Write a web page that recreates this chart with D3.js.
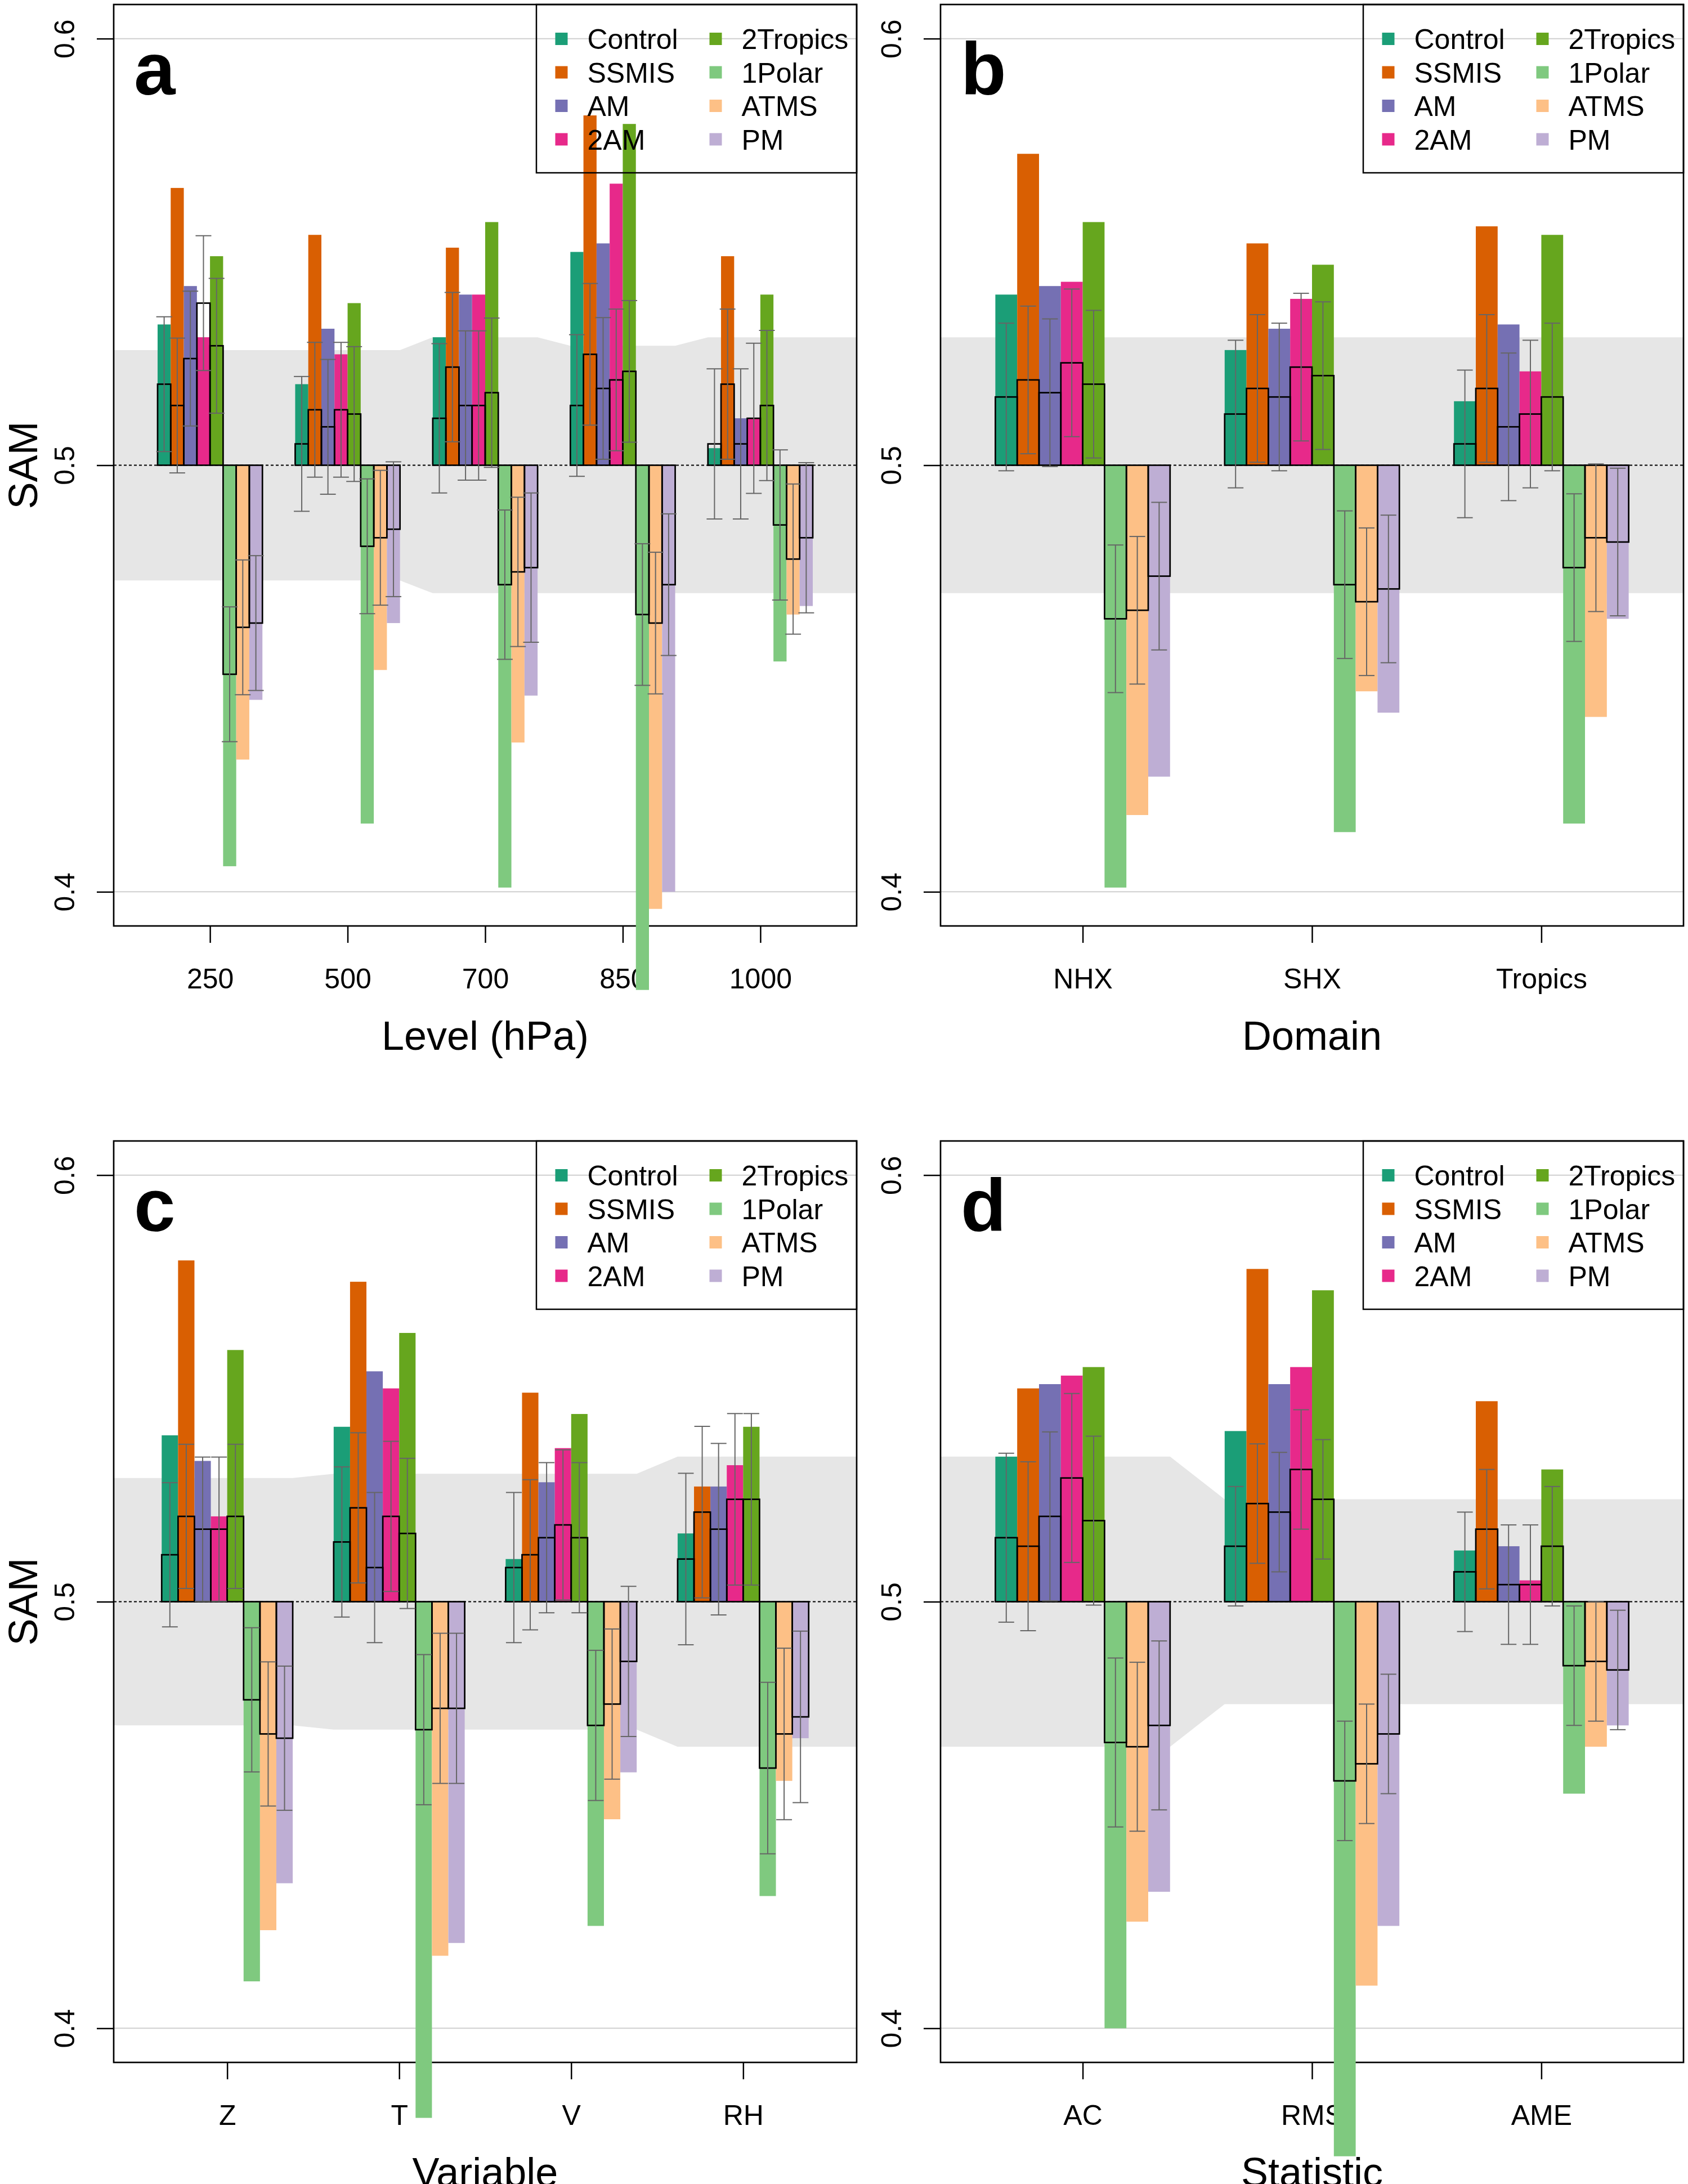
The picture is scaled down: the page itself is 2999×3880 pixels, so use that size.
<!DOCTYPE html>
<html>
<head>
<meta charset="utf-8">
<script src="https://cdn.jsdelivr.net/npm/d3@7"></script>
<style>
  body { margin: 0; background: #ffffff; }
  text { font-family: "Liberation Sans", Arial, Helvetica, sans-serif; }
</style>
</head>
<body>
<div id="chart"></div>
<script>
// series + colours
var series = ["Control", "SSMIS", "AM", "2AM", "2Tropics", "1Polar", "ATMS", "PM"];
var colours = ["#1B9E77", "#D95F02", "#7570B3", "#E7298A", "#66A61E", "#7FC97F", "#FDC086", "#BEAED4"];

// panel a : level
var catA = ["250", "500", "700", "850", "1000"];
var fillA = [
    [0.533, 0.565, 0.542, 0.530, 0.549, 0.406, 0.431, 0.445],
    [0.519, 0.554, 0.532, 0.526, 0.538, 0.416, 0.452, 0.463],
    [0.530, 0.551, 0.540, 0.540, 0.557, 0.401, 0.435, 0.446],
    [0.550, 0.582, 0.552, 0.566, 0.580, 0.377, 0.396, 0.400],
    [0.504, 0.549, 0.511, 0.511, 0.540, 0.454, 0.465, 0.467]
];
var boxA = [
    [0.519, 0.514, 0.525, 0.538, 0.528, 0.451, 0.462, 0.463],
    [0.505, 0.513, 0.509, 0.513, 0.512, 0.481, 0.483, 0.485],
    [0.511, 0.523, 0.514, 0.514, 0.517, 0.472, 0.475, 0.476],
    [0.514, 0.526, 0.518, 0.520, 0.522, 0.465, 0.463, 0.472],
    [0.505, 0.519, 0.505, 0.511, 0.514, 0.486, 0.478, 0.483]
];
var errA = [0.0158, 0.0158, 0.0175, 0.0166, 0.0176];
var upA = [0.527, 0.527, 0.530, 0.528, 0.530];
var loA = [0.473, 0.473, 0.470, 0.470, 0.470];

// panel b : domain
var catB = ["NHX", "SHX", "Tropics"];
var fillB = [
    [0.540, 0.573, 0.542, 0.543, 0.557, 0.401, 0.418, 0.427],
    [0.527, 0.552, 0.532, 0.539, 0.547, 0.414, 0.447, 0.442],
    [0.515, 0.556, 0.533, 0.522, 0.554, 0.416, 0.441, 0.464]
];
var boxB = [
    [0.516, 0.520, 0.517, 0.524, 0.519, 0.464, 0.466, 0.474],
    [0.512, 0.518, 0.516, 0.523, 0.521, 0.472, 0.468, 0.471],
    [0.505, 0.518, 0.509, 0.512, 0.516, 0.476, 0.483, 0.482]
];
var errB = [0.0173, 0.0173, 0.0173];
var upB = [0.530, 0.530, 0.530];
var loB = [0.470, 0.470, 0.470];

// panel c : variable
var catC = ["Z", "T", "V", "RH"];
var fillC = [
    [0.539, 0.580, 0.533, 0.520, 0.559, 0.411, 0.423, 0.434],
    [0.541, 0.575, 0.554, 0.550, 0.563, 0.379, 0.417, 0.420],
    [0.510, 0.549, 0.528, 0.536, 0.544, 0.424, 0.449, 0.460],
    [0.516, 0.527, 0.527, 0.532, 0.541, 0.431, 0.458, 0.468]
];
var boxC = [
    [0.511, 0.520, 0.517, 0.517, 0.520, 0.477, 0.469, 0.468],
    [0.514, 0.522, 0.508, 0.520, 0.516, 0.470, 0.475, 0.475],
    [0.508, 0.511, 0.515, 0.518, 0.515, 0.471, 0.476, 0.486],
    [0.510, 0.521, 0.517, 0.524, 0.524, 0.461, 0.469, 0.473]
];
var errC = [0.0169, 0.0176, 0.0176, 0.0201];
var upC = [0.529, 0.530, 0.530, 0.534];
var loC = [0.471, 0.470, 0.470, 0.466];

// panel d : statistic
var catD = ["AC", "RMS", "AME"];
var fillD = [
    [0.534, 0.550, 0.551, 0.553, 0.555, 0.400, 0.425, 0.432],
    [0.540, 0.578, 0.551, 0.555, 0.573, 0.370, 0.410, 0.424],
    [0.512, 0.547, 0.513, 0.505, 0.531, 0.455, 0.466, 0.471]
];
var boxD = [
    [0.515, 0.513, 0.520, 0.529, 0.519, 0.467, 0.466, 0.471],
    [0.513, 0.523, 0.521, 0.531, 0.524, 0.458, 0.462, 0.469],
    [0.507, 0.517, 0.504, 0.504, 0.513, 0.485, 0.486, 0.484]
];
var errD = [0.0198, 0.014, 0.014];
var upD = [0.534, 0.524, 0.524];
var loD = [0.466, 0.476, 0.476];

var yTicks = [0.4, 0.5, 0.6];

var svg = d3.select("#chart").append("svg")
    .attr("width", 2999)
    .attr("height", 3880);

var panels = [
    {label: "a", left: 202, top: 8, cats: catA, fill: fillA, box: boxA, err: errA, up: upA, lo: loA, title: "Level (hPa)", sam: true},
    {label: "b", left: 1671, top: 8, cats: catB, fill: fillB, box: boxB, err: errB, up: upB, lo: loB, title: "Domain", sam: false},
    {label: "c", left: 202, top: 2027, cats: catC, fill: fillC, box: boxC, err: errC, up: upC, lo: loC, title: "Variable", sam: true},
    {label: "d", left: 1671, top: 2027, cats: catD, fill: fillD, box: boxD, err: errD, up: upD, lo: loD, title: "Statistic", sam: false}
];

var W = 1320, H = 1637;
var grp = 10.5;   // 8 bars + 2.5 spacing per group

panels.forEach(function (p) {
    var n = p.cats.length;
    var D = n * grp;
    var x = d3.scaleLinear().domain([-0.04 * D, 1.04 * D]).range([p.left, p.left + W]);
    var y = d3.scaleLinear().domain([0.392, 0.608]).range([p.top + H, p.top]);
    var xCat = d3.scalePoint().domain(p.cats)
        .range([x(grp / 2), x(grp * (n - 1) + grp / 2)]);

    var g = svg.append("g");

    // grey band
    var pts = [];
    pts.push([x.domain()[0], p.up[0]]);
    p.cats.forEach(function (c, i) {
        pts.push([grp * i + 1.25, p.up[i]]);
        pts.push([grp * i + 9.25, p.up[i]]);
    });
    pts.push([x.domain()[1], p.up[n - 1]]);
    pts.push([x.domain()[1], p.lo[n - 1]]);
    for (var i = n - 1; i >= 0; i--) {
        pts.push([grp * i + 9.25, p.lo[i]]);
        pts.push([grp * i + 1.25, p.lo[i]]);
    }
    pts.push([x.domain()[0], p.lo[0]]);
    g.append("path")
        .attr("d", d3.line().x(function (d) { return x(d[0]); }).y(function (d) { return y(d[1]); })(pts) + "Z")
        .attr("fill", "#e6e6e6");

    // light grid at 0.4 / 0.6
    g.selectAll(".grid").data([0.4, 0.6]).enter().append("line")
        .attr("x1", p.left).attr("x2", p.left + W)
        .attr("y1", function (d) { return y(d); }).attr("y2", function (d) { return y(d); })
        .style("stroke", "#cfcfcf").style("stroke-width", 2);

    // dotted reference line
    g.append("line")
        .attr("x1", p.left).attr("x2", p.left + W)
        .attr("y1", y(0.5)).attr("y2", y(0.5))
        .style("stroke", "#000").style("stroke-width", 2)
        .style("stroke-dasharray", "5,4");

    // y axis
    var ya = g.append("g")
        .attr("transform", "translate(" + p.left + ",0)")
        .call(d3.axisLeft(y).tickValues(yTicks).tickSize(30).tickFormat(d3.format(".1f")));
    ya.select(".domain").remove();
    ya.selectAll("line").style("stroke", "#000").style("stroke-width", 2.5);
    ya.selectAll("text")
        .attr("x", null).attr("dy", null)
        .attr("text-anchor", "middle")
        .attr("transform", "translate(-70,0) rotate(-90)")
        .style("font-size", "50px").style("fill", "#000");

    // x axis
    var xa = g.append("g")
        .attr("transform", "translate(0," + (p.top + H) + ")")
        .call(d3.axisBottom(xCat).tickSize(30));
    xa.select(".domain").remove();
    xa.selectAll("line").style("stroke", "#000").style("stroke-width", 2.5);
    xa.selectAll("text")
        .attr("y", 111).attr("dy", null)
        .style("font-size", "50px").style("fill", "#000");

    // frame
    g.append("rect")
        .attr("x", p.left).attr("y", p.top)
        .attr("width", W).attr("height", H)
        .attr("fill", "none")
        .style("stroke", "#000").style("stroke-width", 2.7);

    // axis titles
    g.append("text")
        .attr("x", p.left + W / 2)
        .attr("y", p.top + H + 220)
        .attr("text-anchor", "middle")
        .style("font-size", "72px")
        .text(p.title);
    if (p.sam) {
        g.append("text")
            .attr("transform", "translate(" + (p.left - 136) + "," + y(0.5) + ") rotate(-90)")
            .attr("text-anchor", "middle")
            .style("font-size", "72px")
            .text("SAM");
    }

    // panel letter
    g.append("text")
        .attr("x", p.left + 36)
        .attr("y", p.top + 160)
        .style("font-size", "132px")
        .style("font-weight", "bold")
        .text(p.label);

    // bars
    var flat = [];
    p.cats.forEach(function (c, i) {
        series.forEach(function (s, j) {
            flat.push({i: i, j: j, v: p.fill[i][j], b: p.box[i][j], e: p.err[i]});
        });
    });
    var bw = x(1) - x(0);

    g.selectAll(".bar").data(flat).enter().append("rect")
        .attr("class", "bar")
        .attr("x", function (d) { return x(grp * d.i + 1.25 + d.j); })
        .attr("width", bw)
        .attr("y", function (d) { return Math.min(y(d.v), y(0.5)); })
        .attr("height", function (d) { return Math.abs(y(d.v) - y(0.5)); })
        .attr("fill", function (d) { return colours[d.j]; });

    g.selectAll(".box").data(flat).enter().append("rect")
        .attr("class", "box")
        .attr("x", function (d) { return x(grp * d.i + 1.25 + d.j); })
        .attr("width", bw)
        .attr("y", function (d) { return Math.min(y(d.b), y(0.5)); })
        .attr("height", function (d) { return Math.abs(y(d.b) - y(0.5)); })
        .attr("fill", "none")
        .style("stroke", "#000").style("stroke-width", 2.7);

    var eb = g.selectAll(".err").data(flat).enter().append("g").attr("class", "err")
        .style("stroke", "#666").style("stroke-width", 2);
    eb.append("line")
        .attr("x1", function (d) { return x(grp * d.i + 1.75 + d.j); })
        .attr("x2", function (d) { return x(grp * d.i + 1.75 + d.j); })
        .attr("y1", function (d) { return y(d.b - d.e); })
        .attr("y2", function (d) { return y(d.b + d.e); });
    [-1, 1].forEach(function (sgn) {
        eb.append("line")
            .attr("x1", function (d) { return x(grp * d.i + 1.75 + d.j) - 14; })
            .attr("x2", function (d) { return x(grp * d.i + 1.75 + d.j) + 14; })
            .attr("y1", function (d) { return y(d.b + sgn * d.e); })
            .attr("y2", function (d) { return y(d.b + sgn * d.e); });
    });

    // legend
    var lx = p.left + W - 569, ly = p.top;
    var lg = g.append("g");
    lg.append("rect")
        .attr("x", lx).attr("y", ly)
        .attr("width", 569).attr("height", 299)
        .attr("fill", "none")
        .style("stroke", "#000").style("stroke-width", 2.5);
    var item = lg.selectAll(".item").data(series).enter().append("g")
        .attr("transform", function (d, k) {
            var col = Math.floor(k / 4), row = k % 4;
            return "translate(" + (lx + 44.5 + col * 274) + "," + (ly + 61 + row * 59.5) + ")";
        });
    item.append("rect")
        .attr("x", -11).attr("y", -11)
        .attr("width", 22).attr("height", 22)
        .attr("fill", function (d, k) { return colours[k]; });
    item.append("text")
        .attr("x", 46).attr("y", 18)
        .style("font-size", "50px")
        .text(function (d) { return d; });
});
</script>
</body>
</html>
